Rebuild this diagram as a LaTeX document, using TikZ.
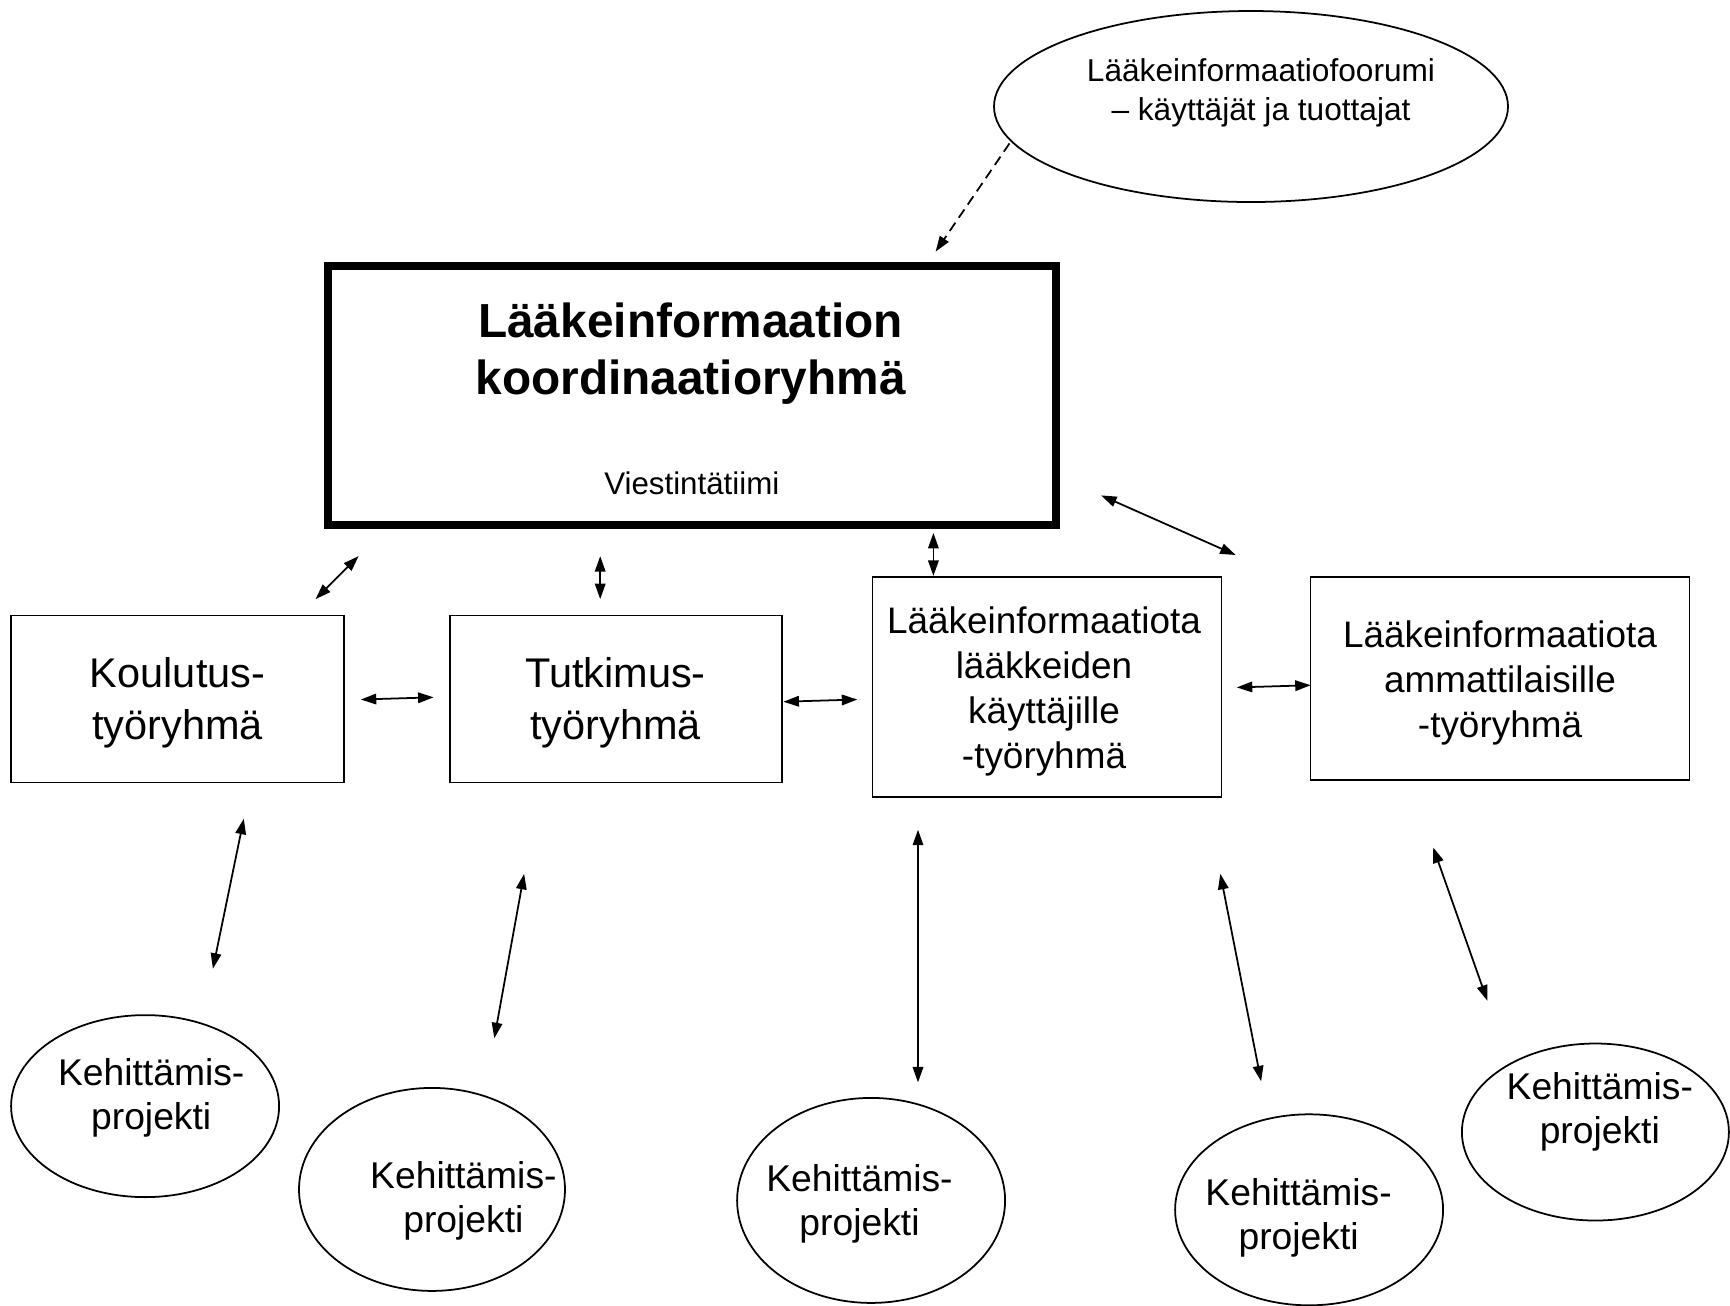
\documentclass[tikz,border=0pt]{standalone}
\usepackage{fontspec}
\setmainfont{Liberation Sans}
\usetikzlibrary{arrows.meta,shapes.geometric}
\begin{document}
\begin{tikzpicture}[x=0.1mm,y=-0.1mm,
  thinbox/.style={draw,line width=0.5pt,rectangle,inner sep=0pt},
  mainbox/.style={draw,line width=2.2pt,rectangle,inner sep=0pt},
  oval/.style={draw,line width=0.5pt,ellipse,inner sep=0pt},
  txt/.style={inner sep=0pt,align=center},
  boxfont/.style={font=\fontsize{11.8}{14.8}\selectfont},
  infofont/.style={font=\fontsize{10.5}{12.8}\selectfont},
  projfont/.style={font=\fontsize{10.6}{12.5}\selectfont},
  link/.style={line width=0.5pt,{Triangle[length=1.55mm,width=1.05mm]}-{Triangle[length=1.55mm,width=1.05mm]}},
  dashlink/.style={line width=0.5pt,dash pattern=on 1mm off 0.6mm,-{Triangle[length=1.55mm,width=1.05mm]}}
]
\useasboundingbox[fill=white] (0,0) rectangle (1730,1305);

% forum ellipse
\node[oval,minimum width=51.4mm,minimum height=19.1mm] (forum) at (1251,106.5) {};
\node[txt,font=\fontsize{9}{11}\selectfont] (forumt) at (1261,92.8) {Lääkeinformaatiofoorumi\\– käyttäjät ja tuottajat};

% main box
\node[mainbox,minimum width=72.8mm,minimum height=25.9mm] (main) at (691.8,395.6) {};
\node[txt,font=\fontsize{13.6}{16.2}\selectfont\bfseries] (maint) at (690.7,353.9) {Lääkeinformaation\\koordinaatioryhmä};
\node[txt,font=\fontsize{8.9}{10.7}\selectfont] (viest) at (691.8,483.3) {Viestintätiimi};

% work groups
\node[thinbox,minimum width=33.3mm,minimum height=16.7mm] (koul) at (177.6,699) {};
\node[txt,boxfont] (koult) at (177.6,702.9) {Koulutus-\\työryhmä};
\node[thinbox,minimum width=33.2mm,minimum height=16.7mm] (tutk) at (616.2,699) {};
\node[txt,boxfont] (tutkt) at (615.5,702.9) {Tutkimus-\\työryhmä};
\node[thinbox,minimum width=34.9mm,minimum height=22mm] (lik) at (1047,686.8) {};
\node[txt,infofont] (likt) at (1044,691.2) {Lääkeinformaatiota\\lääkkeiden\\käyttäjille\\-työryhmä};
\node[thinbox,minimum width=37.9mm,minimum height=20.3mm] (lia) at (1500,678.5) {};
\node[txt,infofont] (liat) at (1500,682.9) {Lääkeinformaatiota\\ammattilaisille\\-työryhmä};

% projects
\node[oval,minimum width=26.8mm,minimum height=18.2mm] (p1) at (145.1,1106.1) {};
\node[txt,projfont] (p1t) at (151.2,1097.8) {Kehittämis-\\projekti};
\node[oval,minimum width=26.6mm,minimum height=20.3mm] (p2) at (432,1189.4) {};
\node[txt,projfont] (p2t) at (463.4,1200.5) {Kehittämis-\\projekti};
\node[oval,minimum width=26.8mm,minimum height=20.5mm] (p3) at (871.1,1200.4) {};
\node[txt,projfont] (p3t) at (859.5,1203.8) {Kehittämis-\\projekti};
\node[oval,minimum width=26.8mm,minimum height=19.1mm] (p4) at (1309.1,1209.8) {};
\node[txt,projfont] (p4t) at (1298.6,1218.1) {Kehittämis-\\projekti};
\node[oval,minimum width=26.7mm,minimum height=17.7mm] (p5) at (1595.4,1132) {};
\node[txt,projfont] (p5t) at (1599.8,1112.2) {Kehittämis-\\projekti};

% connector end points
\coordinate (d1) at (1009.5,143.4); \coordinate (d2) at (935.6,251.6);
\coordinate (a1s) at (315.6,599.1); \coordinate (a1e) at (358.6,556.1);
\coordinate (a2s) at (600.2,599.1); \coordinate (a2e) at (600.2,556.1);
\coordinate (a3s) at (933.4,575.9); \coordinate (a3e) at (933.4,532.9);
\coordinate (a4s) at (1101.1,495.4); \coordinate (a4e) at (1235.7,555.0);
\coordinate (a5s) at (360.8,699.5); \coordinate (a5e) at (433.6,697.3);
\coordinate (a6s) at (783.4,701.7); \coordinate (a6e) at (857.3,699.5);
\coordinate (a7s) at (1236.8,687.4); \coordinate (a7e) at (1310.7,685.2);
\coordinate (a8s) at (243.8,818.7); \coordinate (a8e) at (212.9,968.7);
\coordinate (a9s) at (524.1,873.8); \coordinate (a9e) at (494.3,1038.2);
\coordinate (a10s) at (918.0,829.7); \coordinate (a10e) at (918.0,1082.4);
\coordinate (a11s) at (1220.3,873.8); \coordinate (a11e) at (1261.1,1081.3);
\coordinate (a12s) at (1433.2,847.4); \coordinate (a12e) at (1487.3,1000.7);

\draw[dashlink] (d1) -- (d2);
\draw[link] (a1s) -- (a1e);
\draw[link] (a2s) -- (a2e);
\draw[link] (a3s) -- (a3e);
\draw[link] (a4s) -- (a4e);
\draw[link] (a5s) -- (a5e);
\draw[link] (a6s) -- (a6e);
\draw[link] (a7s) -- (a7e);
\draw[link] (a8s) -- (a8e);
\draw[link] (a9s) -- (a9e);
\draw[link] (a10s) -- (a10e);
\draw[link] (a11s) -- (a11e);
\draw[link] (a12s) -- (a12e);
\end{tikzpicture}
\end{document}
